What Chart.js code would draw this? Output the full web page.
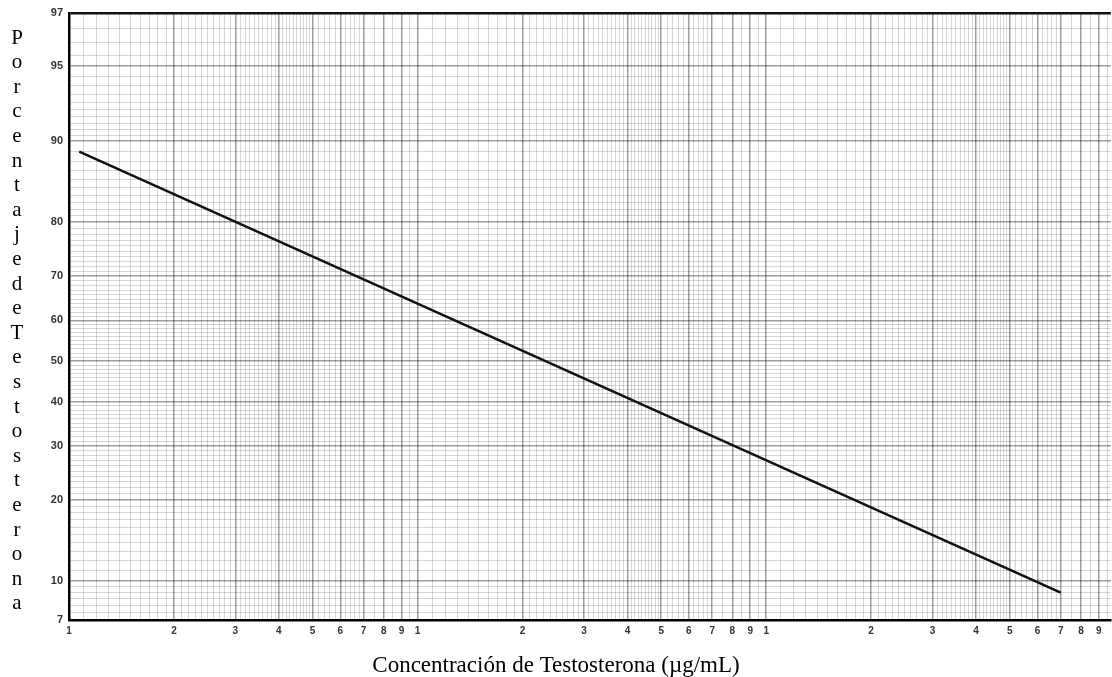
<!DOCTYPE html>
<html>
<head>
<meta charset="utf-8">
<script src="https://cdn.jsdelivr.net/npm/chart.js@4"></script>
<style>
  html, body { margin: 0; padding: 0; background: #fff; }
  #wrap { width: 1112px; height: 677px; }
</style>
</head>
<body>
<div id="wrap"><canvas id="grafica"></canvas></div>
<script>
// data (straight line on log / logit paper)
const concentracion = [1.07, 700];
const porcentaje = [89, 9];

// labels on the axes
const yEtiquetas = [7, 10, 20, 30, 40, 50, 60, 70, 80, 90, 95, 97];
const xDigitos = [1, 2, 3, 4, 5, 6, 7, 8, 9];
const tituloY = "Porcentaje de Testosterona";
const tituloX = "Concentración de Testosterona (µg/mL)";

const yMin = 7, yMax = 97;
const xMin = 1, xMax = 975;

// percentage -> logit (the paper's vertical scale)
function logit(p) {
    p = p / 100;
    return Math.log(p / (1 - p));
}
function fromLogit(v) {
    return 100 / (1 + Math.exp(-v));
}

// y grid lines of the paper
const yGrid = [];
for (let p = 7; p < 10; p += 0.5) yGrid.push(p);
for (let p = 10; p < 90; p += 1) yGrid.push(p);
for (let p = 90; p <= 97.001; p += 0.5) yGrid.push(p);

// x grid lines of the paper
const xGrid = [];
for (let k = 0; k < 3; k++) {
    const f = Math.pow(10, k);
    for (let m = 1; m < 10 - 1e-9; ) {
        const v = m * f;
        if (v <= xMax) xGrid.push({ value: v, major: Math.abs(m - Math.round(m)) < 1e-6 });
        if (m < 5 - 1e-9) m += 0.1;
        else if (m < 7 - 1e-9) m += 0.2;
        else m += 0.5;
        m = Math.round(m * 10) / 10;
    }
}

const puntos = concentracion.map((c, i) => ({ x: c, y: logit(porcentaje[i]) }));

// stacked letters of the y title
const tituloVertical = {
    id: 'tituloVertical',
    afterDraw(chart) {
        const ctx = chart.ctx;
        const letras = tituloY.replace(/ /g, '').split('');
        ctx.save();
        ctx.font = '21px "Liberation Serif", "Times New Roman", serif';
        ctx.fillStyle = '#000';
        ctx.textAlign = 'center';
        ctx.textBaseline = 'middle';
        letras.forEach((l, i) => ctx.fillText(l, 17, 38 + i * 24.6));
        ctx.restore();
    }
};

const ctx = document.getElementById('grafica').getContext('2d');
const grafica = new Chart(ctx, {
    type: 'line',
    data: {
        datasets: [{
            data: puntos,
            borderColor: '#111',
            borderWidth: 2.5,
            pointRadius: 0,
            fill: false,
            tension: 0
        }]
    },
    options: {
        responsive: true,
        maintainAspectRatio: false,
        animation: false,
        layout: { padding: { top: 13, right: 0, left: 0, bottom: 0 } },
        plugins: {
            legend: { display: false },
            tooltip: { enabled: false },
            title: {
                display: true,
                position: 'bottom',
                text: tituloX,
                color: '#000',
                font: { family: '"Liberation Serif", "Times New Roman", serif', size: 23, weight: 'normal', lineHeight: 1 },
                padding: { top: 0, bottom: 0 }
            }
        },
        scales: {
            x: {
                type: 'logarithmic',
                min: xMin,
                max: xMax,
                afterBuildTicks: s => { s.ticks = xGrid.map(t => ({ value: t.value, major: t.major })); },
                afterFit: s => { s.height = 34; },
                border: { display: true, color: '#000', width: 2.5 },
                grid: {
                    drawTicks: false,
                    color: c => (c.tick && c.tick.major) ? 'rgba(0,0,0,0.38)' : 'rgba(0,0,0,0.16)',
                    lineWidth: c => (c.tick && c.tick.major) ? 1.5 : 1
                },
                ticks: {
                    autoSkip: false,
                    maxRotation: 0,
                    padding: 5,
                    color: '#333',
                    font: { family: '"Liberation Sans", Arial, sans-serif', size: 10, weight: 'bold' },
                    callback: function (value, i, ticks) {
                        if (!ticks[i].major) return '';
                        const e = Math.floor(Math.log10(value) + 1e-9);
                        const d = Math.round(value / Math.pow(10, e));
                        return xDigitos.includes(d) ? String(d) : '';
                    }
                }
            },
            y: {
                type: 'linear',
                min: logit(yMin),
                max: logit(yMax),
                afterBuildTicks: s => {
                    s.ticks = yGrid.map(p => ({ value: logit(p), major: yEtiquetas.some(e => Math.abs(e - p) < 1e-6) }));
                },
                afterFit: s => { s.width = 69; },
                border: { display: true, color: '#000', width: 2.5 },
                grid: {
                    drawTicks: false,
                    color: c => {
                        if (!c.tick) return 'rgba(0,0,0,0.16)';
                        if (Math.abs(fromLogit(c.tick.value) - yMax) < 1e-6) return '#111';
                        return c.tick.major ? 'rgba(0,0,0,0.38)' : 'rgba(0,0,0,0.16)';
                    },
                    lineWidth: c => {
                        if (!c.tick) return 1;
                        if (Math.abs(fromLogit(c.tick.value) - yMax) < 1e-6) return 2.5;
                        return c.tick.major ? 1.5 : 1;
                    }
                },
                ticks: {
                    autoSkip: false,
                    padding: 6,
                    color: '#333',
                    font: { family: '"Liberation Sans", Arial, sans-serif', size: 11, weight: 'bold' },
                    callback: function (value, i, ticks) {
                        if (!ticks[i].major) return '';
                        return String(Math.round(fromLogit(value)));
                    }
                }
            }
        }
    },
    plugins: [tituloVertical]
});
</script>
</body>
</html>
